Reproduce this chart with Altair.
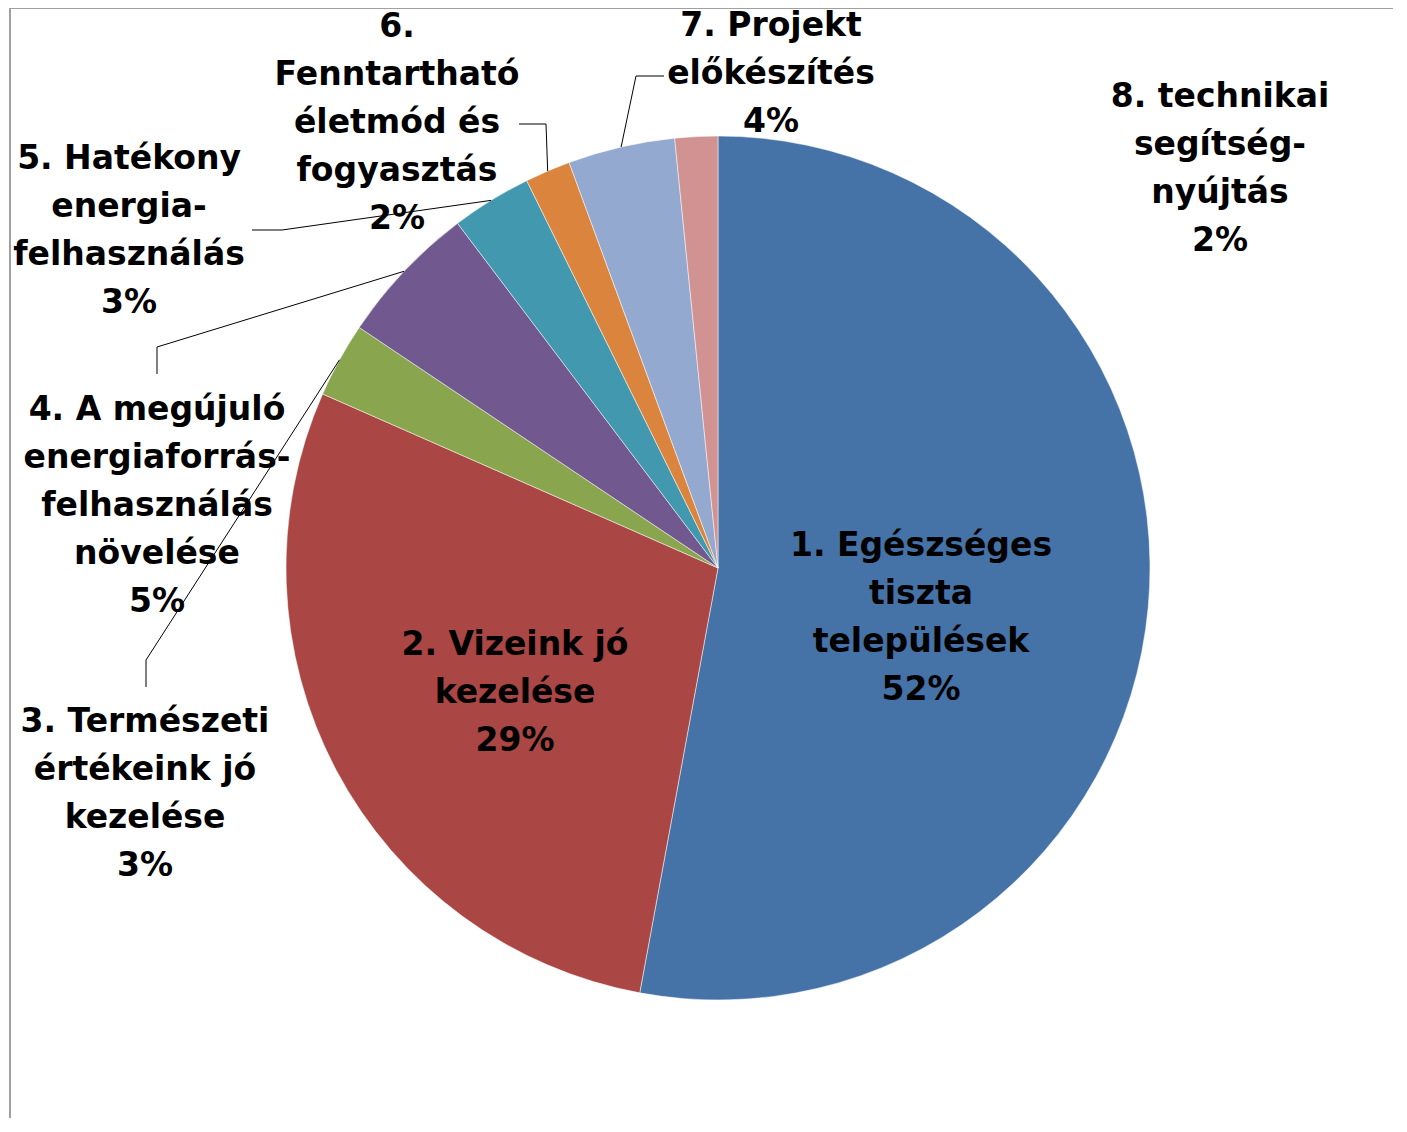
import math
import altair as alt
import pandas as pd

# ---------------- data ----------------
categories = [
    "1. Egészséges tiszta települések",
    "2. Vizeink jó kezelése",
    "3. Természeti értékeink jó kezelése",
    "4. A megújuló energiaforrás-felhasználás növelése",
    "5. Hatékony energia-felhasználás",
    "6. Fenntartható életmód és fogyasztás",
    "7. Projekt előkészítés",
    "8. technikai segítség-nyújtás",
]
values = [52.9, 28.7, 2.8, 5.3, 3.0, 1.7, 4.0, 1.6]
pct_labels = ["52%", "29%", "3%", "5%", "3%", "2%", "4%", "2%"]
label_lines = [
    ["1. Egészséges", "tiszta", "települések"],
    ["2. Vizeink jó", "kezelése"],
    ["3. Természeti", "értékeink jó", "kezelése"],
    ["4. A megújuló", "energiaforrás-", "felhasználás", "növelése"],
    ["5. Hatékony", "energia-", "felhasználás"],
    ["6.", "Fenntartható", "életmód és", "fogyasztás"],
    ["7. Projekt", "előkészítés"],
    ["8. technikai", "segítség-", "nyújtás"],
]
colors = ["#4572A7", "#AA4643", "#89A54E", "#71588F",
          "#4198AF", "#DB843D", "#93A9CF", "#D19392"]

# ---------------- layout (page pixels) ----------------
M = 8                      # page margin
CX, CY, R = 718 - M, 568 - M, 432
W, H = 1385, 1110
FS, LH = 33, 48
# centre x and first-line y of every label block
label_pos = [(921, 546), (515, 645), (145, 722), (157, 410),
             (129, 159), (397, 27), (771, 26), (1220, 97)]
# label-side part of the leader lines (None = label inside the slice)
leader_pts = [None, None,
              [(146, 687), (146, 660)],
              [(157, 374), (157, 347)],
              [(252, 230), (282, 230)],
              [(519, 124), (546, 124)],
              [(664, 76), (636, 76)],
              None]

total = sum(values)
df = pd.DataFrame({"cat": categories, "value": values,
                   "idx": list(range(len(values)))})

# text rows
rows = []
for i, (lines, (lx, ly)) in enumerate(zip(label_lines, label_pos)):
    for j, t in enumerate(lines + [pct_labels[i]]):
        rows.append({"tx": lx - M, "ty": ly - M + j * LH, "line": t, "k": f"{i}-{j}"})
df_text = pd.DataFrame(rows)

# leader lines: label end from layout, slice end from the data angle
lrows = []
cum = 0.0
for i, v in enumerate(values):
    mid = (cum + v / 2) / total * 2 * math.pi
    cum += v
    if leader_pts[i] is None:
        continue
    pts = [(x - M, y - M) for x, y in leader_pts[i]]
    pts.append((CX + R * math.sin(mid), CY - R * math.cos(mid)))
    for o, (x, y) in enumerate(pts):
        lrows.append({"lx": x, "ly": y, "seg": i, "ord": o})
df_lines = pd.DataFrame(lrows)

pie = alt.Chart(df).mark_arc(outerRadius=R, stroke="white", strokeWidth=0.5).encode(
    theta=alt.Theta("value:Q", stack=True),
    order=alt.Order("idx:Q"),
    color=alt.Color("cat:N", scale=alt.Scale(domain=categories, range=colors), legend=None),
    x=alt.value(CX),
    y=alt.value(CY),
)

texts = alt.Chart(df_text).mark_text(
    font="DejaVu Sans", fontWeight="bold", fontSize=FS,
    align="center", baseline="middle", color="black",
).encode(
    x=alt.X("tx:Q", scale=None, axis=None),
    y=alt.Y("ty:Q", scale=None, axis=None),
    text="line:N",
    detail="k:N",
)

leaders = alt.Chart(df_lines).mark_line(color="black", strokeWidth=1).encode(
    x=alt.X("lx:Q", scale=None, axis=None),
    y=alt.Y("ly:Q", scale=None, axis=None),
    detail="seg:N",
    order="ord:Q",
)

one = pd.DataFrame({"a": [0]})
frame_left = alt.Chart(one).mark_rule(color="#A0A0A0", strokeWidth=2).encode(
    x=alt.value(10 - M), y=alt.value(0), y2=alt.value(H))
frame_top = alt.Chart(one).mark_rule(color="#A0A0A0", strokeWidth=2).encode(
    x=alt.value(10 - M), x2=alt.value(W), y=alt.value(0))

chart = alt.layer(frame_left, frame_top, pie, texts, leaders).properties(
    width=W, height=H, padding=0,
    autosize=alt.AutoSizeParams(type="none"),
).configure_view(stroke=None)

chart.save("out.html", embed_options={"renderer": "svg", "actions": False})
